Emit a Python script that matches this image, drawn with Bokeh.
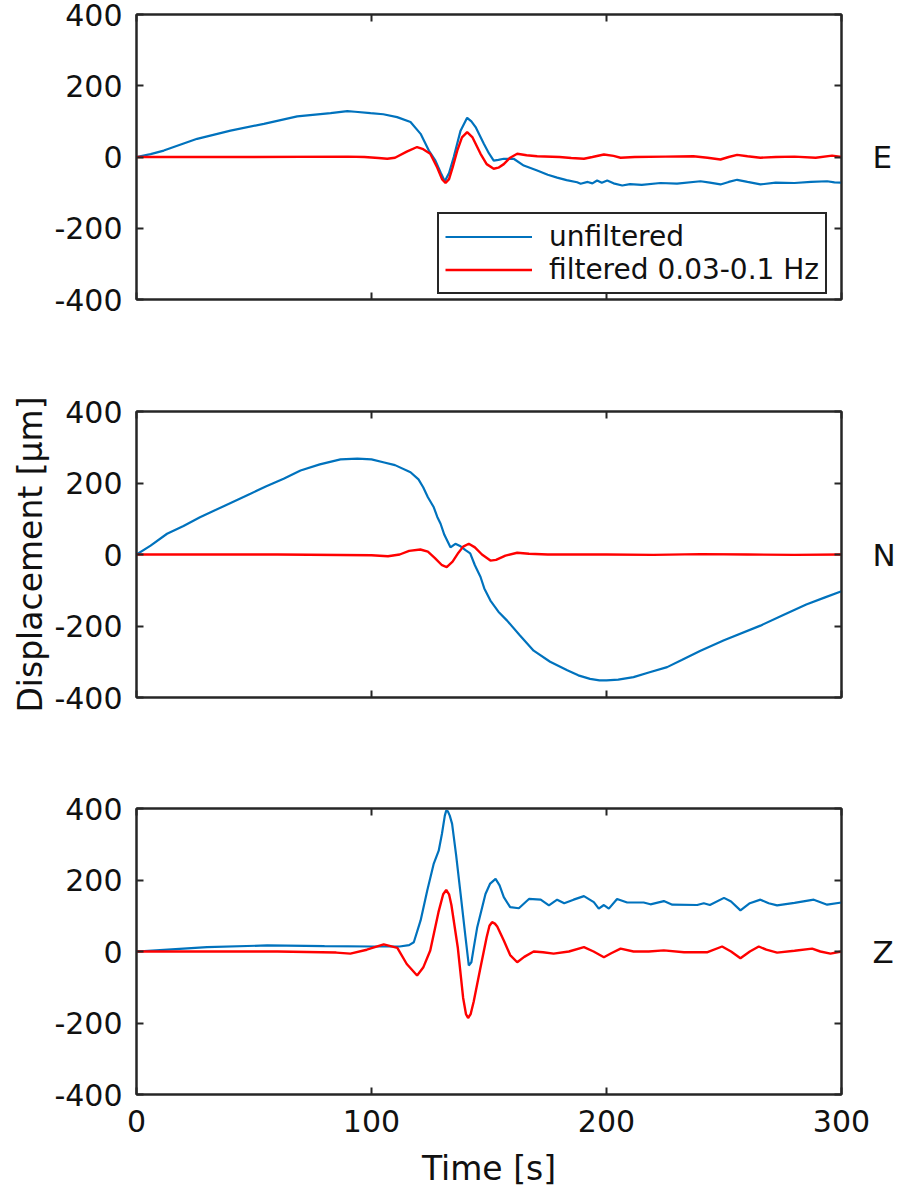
from bokeh.plotting import figure
from bokeh.layouts import column
from bokeh.models import Range1d, LinearAxis, FixedTicker, Legend, LegendItem
from bokeh.embed import file_html
from bokeh.resources import INLINE

# ---------------- data ----------------
y_ticks = [-400, -200, 0, 200, 400]
y_tick_labels = {-400: "-400", -200: "-200", 0: "0", 200: "200", 400: "400"}
x_ticks = [0, 100, 200, 300]
components = ["E", "N", "Z"]
series_names = ["unfiltered", "filtered 0.03-0.1 Hz"]
x_title = "Time [s]"
y_title = "Displacement [μm]"

# E component
t_e_unf = [0, 6, 11.6, 25.8, 40, 54.2, 68.4, 82.6, 89.7, 93, 99.6, 105, 110.9, 116.6, 120.9,
           124.4, 127.2, 129.5, 131.2, 133, 135, 137.9, 140.7, 142.5, 144.3, 147.8, 150, 152,
           154, 156.3, 160.5, 164.8, 170.5, 175, 179, 183, 187.5, 189, 192, 194, 196, 198,
           200.3, 203, 206.7, 210, 215, 223, 230, 240, 244, 248.5, 252, 255.6, 260, 265.5,
           272, 280, 287, 293.9, 297, 300]
e_unf = [0, 8, 18, 51, 74, 93, 114, 123, 129, 127, 123, 120, 112, 98, 65,
         18, -10, -45, -68, -45, 0, 74, 110, 100, 84, 37, 10, -10,
         -8, -5, -5, -24, -38, -50, -58, -65, -71, -75, -70, -74, -66, -72,
         -66, -74, -80, -76, -78, -73, -75, -68, -72, -77, -70, -64, -70, -77,
         -72, -73, -70, -68, -71, -72]
t_e_filt = [0, 50, 90, 97, 103, 106.7, 110, 115, 119.4, 122, 125, 128, 130, 131.5, 133, 134.5,
            136.5, 138.5, 140.7, 143, 146.4, 149, 152, 154, 156.3, 159, 162, 166, 170.5, 180,
            185, 190.4, 194, 198.9, 203, 206, 212, 225, 237, 243, 248.5, 252, 255.6, 260,
            265.5, 272, 280, 289, 296, 300]
e_filt = [0, 0, 1, 0, -3, -5, -2, 15, 28, 22, 9, -30, -62, -73, -62, -30,
          18, 55, 70, 55, 9, -20, -33, -30, -20, -2, 9, 5, 2, 0,
          -3, -5, 0, 7, 3, -2, 0, 1, 2, -2, -7, 0, 6, 2,
          -2, 0, 1, -2, 4, 0]

# N component
t_n_unf = [0, 6, 13, 20, 27, 38, 48.5, 55, 62.6, 69.8, 78, 86.8, 94, 100, 105, 110, 116.6,
           120, 122, 124, 126.5, 128, 129.4, 131, 133.6, 135.7, 137.9, 140, 142, 144, 146.4,
           148, 150.6, 154, 157.7, 163, 169, 176, 183.3, 188, 193, 197, 200, 205, 211.5,
           218, 225.8, 232, 240, 250, 265.5, 275, 285, 293, 300]
n_unf = [0, 25, 58, 80, 104, 138, 170, 190, 212, 235, 252, 266, 268, 266, 258, 250, 230,
         210, 188, 160, 132, 105, 86, 55, 20, 30, 23, 12, 3, -30, -63,
         -95, -129, -160, -185, -225, -269, -300, -324, -338, -348, -352, -352, -350, -343,
         -330, -315, -295, -269, -240, -199, -170, -140, -120, -103]
t_n_filt = [0, 60, 100, 107, 112, 116, 120.8, 124, 127, 130, 132, 134.5, 137, 139, 141.4,
            144, 147, 150.6, 153, 157, 162, 167, 175, 200, 220, 240, 260, 280, 300]
n_filt = [0, 0, -2, -5, 0, 10, 14, 8, -10, -30, -35, -20, 5, 22, 30,
          20, 0, -17, -15, -3, 5, 2, 0, 0, -1, 1, 0, -1, 0]

# Z component
t_z_unf = [0, 15, 30, 55.6, 80, 100, 112, 116, 118, 120.9, 123.7, 126.5, 128.6, 130, 131.2,
           131.8, 132.5, 133.3, 134.3, 136, 137.9, 140, 141.4, 142.5, 143.5, 145, 148.5, 150.5,
           152.8, 154.5, 156.3, 159, 162.7, 167, 172, 175.5, 179, 182, 186, 190.4, 194.6,
           196.7, 198.9, 201, 204.5, 208.8, 215.8, 218.7, 224.4, 228, 238.6, 241.4, 244, 250,
           253, 257, 261, 265.5, 269, 272.6, 280, 288.2, 293.9, 300]
z_unf = [0, 6, 12, 17, 15, 14, 14, 18, 26, 87, 170, 246, 282, 330, 380,
         394, 392, 380, 357, 270, 162, 40, -39, -30, 10, 68, 161, 190,
         203, 185, 152, 124, 121, 147, 145, 129, 145, 135, 145, 155, 138,
         120, 130, 120, 147, 137, 137, 132, 141, 131, 130, 135, 130, 150,
         140, 115, 135, 145, 135, 129, 136, 145, 131, 137]
t_z_filt = [0, 60, 85, 91, 98, 105.2, 111, 115, 119.4, 122, 125, 128.5, 130.5, 131.8, 133,
            134, 136.7, 139, 140.2, 141.1, 142.2, 143.5, 146.4, 149, 150.2, 151.3, 152.5,
            153.5, 156.3, 159, 162, 165, 169, 173, 177.5, 184, 190.4, 194.5, 198.9, 202, 206,
            211.5, 218, 224.4, 233, 243, 249.2, 253, 257, 261, 264.8, 268, 272.6, 280, 287.5,
            291, 295.3, 300]
z_filt = [0, 0, -3, -6, 5, 20, 10, -35, -67, -45, 3, 110, 160, 172, 160,
          130, 12, -130, -175, -186, -175, -140, -44, 40, 72, 82, 78,
          70, 31, -10, -30, -15, 0, -2, -6, 0, 12, 0, -16, -5, 8,
          0, 0, 3, -2, -2, 14, 0, -19, 0, 14, 5, -3, 2, 8,
          0, -6, 0]

# ---------------- styling ----------------
FONT = "DejaVu Sans"
AX = "#262626"
TXT = "#111111"
BLUE = "#0072BD"
RED = "#FF0000"


def style_axis(ax, show_labels):
    ax.axis_line_color = AX
    ax.axis_line_width = 2
    ax.major_tick_line_color = AX
    ax.major_tick_line_width = 2
    ax.major_tick_in = 7
    ax.major_tick_out = 0
    ax.minor_tick_line_color = None
    ax.major_label_text_font = FONT
    ax.major_label_text_color = TXT
    if show_labels:
        ax.major_label_text_font_size = "30px"
    else:
        ax.major_label_text_font_size = "1px"
        ax.major_label_text_color = None
        ax.major_label_text_alpha = 0
        ax.major_label_standoff = 0
    ax.axis_label_text_font = FONT
    ax.axis_label_text_color = TXT
    ax.axis_label_text_font_style = "normal"
    return ax


def make_panel(height, top, bottom, t_u, v_u, t_f, v_f, comp, bottom_labels, ylabel=None):
    p = figure(width=898, height=height,
               x_range=Range1d(0, 300), y_range=Range1d(-400, 400),
               output_backend="svg", toolbar_location=None,
               x_axis_location=None, y_axis_location=None,
               min_border_left=136, min_border_right=57,
               min_border_top=top, min_border_bottom=bottom)
    p.grid.visible = False
    p.outline_line_color = AX
    p.outline_line_width = 2
    p.background_fill_color = "white"
    p.border_fill_color = "white"

    left = style_axis(LinearAxis(ticker=FixedTicker(ticks=y_ticks)), True)
    left.major_label_overrides = y_tick_labels
    left.major_label_standoff = 14
    if ylabel:
        left.axis_label = ylabel
        left.axis_label_text_font_size = "33px"
        left.axis_label_standoff = 1
    p.add_layout(left, "left")

    right = style_axis(LinearAxis(ticker=FixedTicker(ticks=y_ticks)), False)
    right.axis_label = comp
    right.axis_label_text_font_size = "31px"
    right.axis_label_orientation = "horizontal"
    right.axis_label_standoff = 31
    p.add_layout(right, "right")

    p.add_layout(style_axis(LinearAxis(ticker=FixedTicker(ticks=x_ticks)), False), "above")
    below = style_axis(LinearAxis(ticker=FixedTicker(ticks=x_ticks)), bottom_labels)
    if bottom_labels:
        below.major_label_standoff = 15
        below.axis_label = x_title
        below.axis_label_text_font_size = "33px"
        below.axis_label_standoff = 14
    p.add_layout(below, "below")

    r_u = p.line(t_u, v_u, line_color=BLUE, line_width=2.2)
    r_f = p.line(t_f, v_f, line_color=RED, line_width=2.4)
    return p, r_u, r_f


p1, r1u, r1f = make_panel(355, 14, 56, t_e_unf, e_unf, t_e_filt, e_filt, components[0], False)
p2, r2u, r2f = make_panel(397, 56, 55, t_n_unf, n_unf, t_n_filt, n_filt, components[1], False,
                          ylabel=y_title)
p3, r3u, r3f = make_panel(438, 56, 96, t_z_unf, z_unf, t_z_filt, z_filt, components[2], True)

legend = Legend(items=[LegendItem(label=series_names[0], renderers=[r1u]),
                       LegendItem(label=series_names[1], renderers=[r1f])],
                location=(301, 5), label_text_font=FONT, label_text_font_size="28px",
                label_text_color=TXT, glyph_width=87, glyph_height=31, label_height=31,
                label_standoff=17, padding=6, spacing=0, margin=0,
                border_line_color=AX, border_line_width=2, border_line_alpha=1,
                background_fill_color="white", background_fill_alpha=1)
p1.add_layout(legend)

layout = column(p1, p2, p3, spacing=0)

with open("out.html", "w") as f:
    f.write(file_html(layout, INLINE))
